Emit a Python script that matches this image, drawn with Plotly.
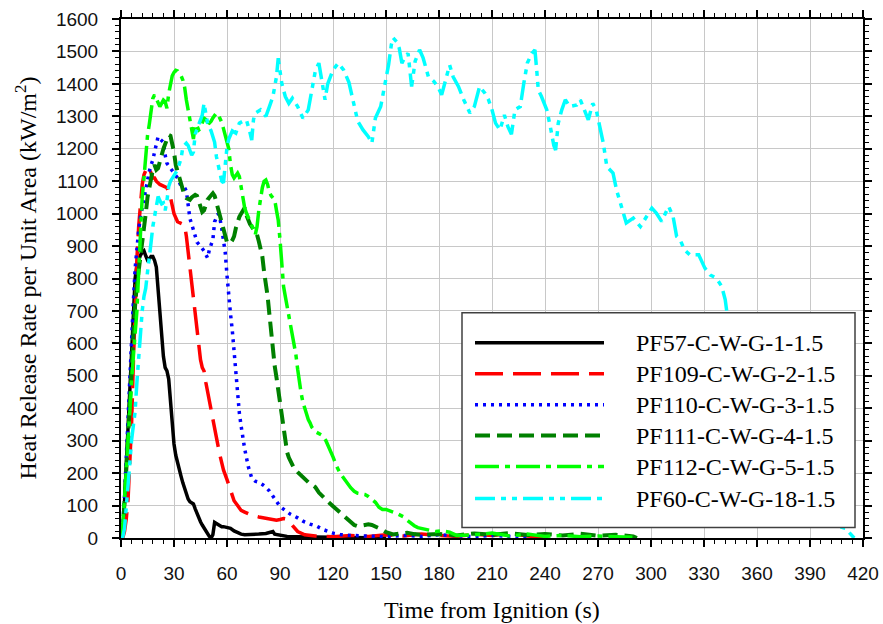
import plotly.graph_objects as go

# ---- data (time s, HRR kW/m2) ----
pf57 = [(0,0),(1,20),(2,110),(3,230),(4,350),(5,470),(6,600),(7,735),(8,800),(9,840),(10,860),(11,872),(12,880),(13,885),(14,870),(15,857),(16,860),(17,868),(18,868),(19,855),(20,835),(21,760),(22,680),(23,611),(24,560),(25,525),(26,515),(27,490),(28,420),(29,360),(30,290),(31,255),(32,230),(33,205),(34,190),(35,170),(36,150),(37,130),(38,120),(39,112),(40,108),(41,105),(42,90),(43,75),(44,60),(45,50),(46,40),(47,30),(48,20),(49,12),(50,5),(51,0),(52,10),(53,48),(54,44),(55,40),(56,37),(57,35),(58,35),(59,34),(60,32),(62,30),(64,22),(66,16),(68,12),(70,10),(74,10),(78,12),(82,14),(84,16),(86,20),(87,12),(90,8),(94,5),(100,4),(110,3),(120,2),(130,2),(140,1),(150,0)]

pf109 = [(0,0),(1,0),(2,20),(3,60),(4,120),(5,230),(6,355),(7,540),(8,735),(9,860),(10,960),(11,1030),(12,1090),(13,1120),(14,1135),(15,1145),(16,1140),(17,1120),(18,1110),(19,1110),(20,1100),(22,1090),(24,1085),(26,1080),(28,1050),(30,1000),(32,975),(34,970),(36,965),(37,930),(38,880),(39,840),(40,790),(41,750),(42,700),(43,630),(44,580),(45,550),(46,525),(47,515),(48,480),(50,420),(52,370),(54,310),(56,255),(58,210),(60,180),(62,150),(64,115),(66,100),(68,85),(70,80),(74,70),(78,65),(82,60),(86,57),(88,55),(90,57),(92,60),(94,58),(96,45),(98,30),(100,20),(104,10),(110,6),(120,4),(130,8),(140,5),(150,10),(160,6),(170,12),(180,8),(190,5),(200,12),(210,8),(220,14),(230,6),(240,3)]

pf110 = [(0,0),(1,30),(2,130),(3,260),(4,380),(5,500),(6,620),(7,730),(8,830),(9,900),(10,950),(11,990),(12,1020),(13,1050),(14,1080),(15,1110),(16,1130),(17,1150),(18,1165),(19,1190),(20,1220),(21,1237),(22,1230),(23,1225),(24,1220),(25,1180),(26,1155),(28,1140),(30,1125),(32,1110),(34,1085),(36,1080),(37,1070),(38,1020),(39,985),(41,950),(43,912),(45,900),(47,885),(49,863),(50,888),(52,920),(53,975),(55,1000),(56,985),(57,955),(58,920),(59,880),(60,810),(61,740),(62,690),(63,640),(64,570),(65,500),(66,440),(67,385),(68,345),(69,305),(70,275),(72,221),(74,185),(76,175),(78,172),(80,165),(82,157),(84,145),(86,130),(88,112),(90,97),(93,85),(96,73),(100,62),(103,52),(107,43),(111,36),(114,27),(117,20),(120,15),(124,11),(130,8),(140,6),(150,4),(160,8),(170,5),(180,10),(190,6),(200,4),(210,8),(220,5),(230,2)]

pf111 = [(0,0),(1,30),(2,110),(3,220),(4,340),(5,450),(6,550),(7,640),(8,720),(9,780),(10,820),(11,860),(12,920),(13,960),(14,1000),(15,1050),(16,1085),(17,1110),(18,1135),(19,1150),(20,1135),(21,1140),(22,1165),(23,1180),(24,1200),(25,1215),(26,1230),(27,1243),(28,1240),(29,1215),(30,1190),(31,1150),(32,1130),(33,1110),(34,1090),(35,1068),(36,1055),(37,1048),(38,1045),(39,1043),(40,1050),(41,1053),(42,1058),(43,1055),(44,1040),(45,1022),(46,1005),(47,1010),(48,1030),(49,1043),(50,1050),(51,1058),(52,1063),(53,1055),(54,1035),(55,1012),(56,990),(57,971),(58,950),(59,925),(60,912),(61,908),(62,910),(63,918),(64,930),(65,955),(66,975),(67,990),(68,1000),(69,1012),(70,1018),(71,995),(72,980),(73,968),(74,960),(75,950),(76,942),(77,935),(78,915),(79,895),(80,868),(81,820),(82,790),(83,745),(84,690),(85,625),(86,575),(87,530),(88,495),(89,455),(90,415),(91,375),(92,325),(93,290),(94,265),(95,248),(96,235),(98,215),(100,203),(102,192),(104,180),(106,172),(108,165),(110,157),(112,140),(114,128),(116,118),(118,108),(120,98),(122,88),(124,77),(126,66),(128,57),(130,48),(132,40),(134,36),(136,38),(138,40),(140,42),(142,40),(144,36),(146,31),(148,25),(150,18),(152,14),(154,11),(158,14),(162,16),(166,12),(170,10),(180,12),(190,8),(200,14),(210,10),(220,15),(230,9),(240,12),(250,8),(260,13),(270,7),(280,10),(290,5),(292,0)]

pf112 = [(0,0),(1,40),(2,120),(3,220),(4,320),(5,400),(6,480),(7,560),(8,630),(9,700),(10,820),(11,960),(12,1050),(13,1110),(14,1180),(15,1240),(16,1275),(17,1310),(18,1355),(19,1366),(20,1355),(21,1340),(22,1330),(23,1340),(24,1350),(25,1345),(26,1325),(27,1370),(28,1400),(29,1425),(30,1435),(31,1442),(32,1440),(33,1432),(34,1425),(35,1412),(36,1390),(37,1350),(38,1320),(39,1295),(40,1268),(41,1230),(42,1275),(43,1270),(44,1258),(45,1262),(46,1280),(47,1294),(48,1290),(49,1282),(50,1279),(51,1285),(52,1295),(53,1302),(54,1310),(55,1305),(56,1295),(57,1282),(58,1262),(59,1240),(60,1222),(61,1200),(62,1150),(63,1120),(64,1110),(65,1120),(66,1125),(67,1114),(68,1080),(69,1045),(70,1018),(71,1002),(72,990),(73,978),(74,968),(75,950),(76,935),(77,960),(78,1010),(79,1050),(80,1080),(81,1100),(82,1104),(83,1090),(84,1066),(85,1055),(86,1048),(87,1043),(88,1010),(89,980),(90,920),(91,847),(92,776),(93,745),(94,715),(95,685),(96,655),(97,625),(98,595),(99,565),(100,520),(101,478),(102,445),(103,418),(104,398),(105,380),(106,365),(107,355),(108,342),(110,328),(112,322),(114,316),(116,300),(118,277),(120,250),(122,222),(124,200),(126,185),(128,168),(130,155),(132,144),(134,138),(136,136),(138,134),(140,128),(142,120),(144,110),(146,95),(148,88),(150,88),(152,85),(154,80),(156,76),(158,70),(160,65),(162,55),(164,46),(166,38),(168,32),(170,30),(174,24),(178,20),(182,22),(186,18),(190,8),(200,10),(210,15),(220,6),(230,12),(240,5),(250,8),(260,4),(270,6),(280,3),(290,2)]

pf60 = [(0,0),(1,3),(2,30),(3,90),(4,150),(5,230),(6,303),(7,350),(8,390),(9,480),(10,560),(11,630),(12,700),(13,745),(14,770),(15,820),(16,860),(17,910),(18,960),(19,990),(20,1012),(21,1053),(22,1040),(23,1030),(24,1033),(25,1010),(26,1040),(27,1084),(28,1100),(30,1118),(32,1135),(34,1170),(35,1205),(37,1217),(38,1210),(40,1180),(41,1190),(42,1245),(44,1275),(46,1304),(47,1340),(48,1300),(49,1279),(51,1255),(53,1220),(54,1176),(56,1125),(57,1100),(58,1095),(59,1150),(60,1205),(61,1230),(63,1255),(65,1248),(67,1279),(69,1285),(71,1289),(73,1250),(74,1227),(75,1290),(76,1310),(79,1320),(82,1300),(84,1330),(86,1361),(88,1422),(89,1479),(90,1440),(91,1402),(93,1361),(95,1340),(97,1356),(100,1330),(103,1294),(106,1320),(108,1380),(110,1440),(112,1464),(114,1400),(115.5,1351),(117,1400),(120,1443),(123,1464),(126,1443),(129,1405),(131.5,1340),(134,1285),(137,1258),(140,1237),(142,1217),(144,1295),(147,1330),(149.5,1402),(151.5,1460),(153,1520),(154,1542),(156,1530),(157.5,1510),(159,1464),(161,1485),(162.5,1494),(164.5,1392),(166.5,1470),(169,1505),(171,1480),(174,1422),(177,1408),(179.5,1390),(181.5,1366),(184,1420),(186,1458),(188,1422),(191,1392),(194,1351),(197.5,1310),(200,1330),(203,1392),(206,1371),(208,1351),(210,1320),(212,1279),(214.5,1258),(217,1304),(219,1268),(221,1245),(223,1320),(226,1330),(228,1402),(230,1464),(232.5,1494),(234.3,1505),(235.3,1443),(236.2,1381),(238,1361),(241,1320),(243,1268),(245,1210),(246,1196),(247.5,1279),(249.5,1320),(251.5,1351),(254,1330),(258,1335),(260,1351),(262.5,1320),(264.5,1289),(267,1340),(269,1320),(271,1268),(273,1217),(275,1145),(278.5,1125),(280.5,1073),(283.5,1022),(286,971),(290,986),(294,960),(297.5,991),(300.5,1017),(303,1002),(306,976),(310,1022),(312.5,991),(314.5,930),(316.5,919),(319,888),(322,873),(327,873),(328.5,857),(330.5,832),(333.5,811),(337,801),(340,776),(342,735),(343,694),(345,640),(350,540),(355,440),(360,350),(365,270),(370,210),(375,160),(380,120),(385,95),(390,75),(395,60),(400,48),(405,38),(410,30),(413,10),(415,0)]

series_names = ["PF57-C-W-G-1-1.5", "PF109-C-W-G-2-1.5", "PF110-C-W-G-3-1.5",
                "PF111-C-W-G-4-1.5", "PF112-C-W-G-5-1.5", "PF60-C-W-G-18-1.5"]
series_data = [pf57, pf109, pf110, pf111, pf112, pf60]
colors = ["#000000", "#ff0000", "#0000ff", "#008000", "#00ff00", "#00ffff"]
dashes = ["solid", "28px,10px", "3px,5px", "15px,7px", "24px,6px,5px,6px", "20px,6px,5px,6px,5px,6px"]
widths = [3.5, 3.5, 3.5, 4, 3.5, 3.5]

x_ticks = list(range(0, 421, 30))
y_ticks = list(range(0, 1601, 100))

W, H = 883, 624
ML, MR, MT, MB = 121, 20, 19, 85.5
PW, PH = W - ML - MR, H - MT - MB

SERIF = "Times New Roman, Liberation Serif, serif"
SANS = "Arial, Liberation Sans, sans-serif"

fig = go.Figure()
for name, d, c, ds, w in zip(series_names, series_data, colors, dashes, widths):
    t = [p[0] for p in d]
    q = [p[1] for p in d]
    fig.add_trace(go.Scatter(x=t, y=q, mode="lines", name=name, showlegend=False,
                             line=dict(color=c, dash=ds, width=w)))

def px_x(px):
    return (px - ML) / PW

def px_y(py):
    return (H - MB - py) / PH

# manual legend
shapes = [dict(type="rect", xref="paper", yref="paper", x0=px_x(462), x1=px_x(855),
               y0=px_y(528), y1=px_y(313), fillcolor="white",
               line=dict(color="#404040", width=1.5), layer="above")]
annotations = []
row_y = [343, 374, 405, 436, 467, 499]
for name, c, ds, w, ry in zip(series_names, colors, dashes, widths, row_y):
    shapes.append(dict(type="line", xref="paper", yref="paper", x0=px_x(475), x1=px_x(604),
                       y0=px_y(ry), y1=px_y(ry), line=dict(color=c, dash=ds, width=w), layer="above"))
    annotations.append(dict(xref="paper", yref="paper", x=px_x(634), y=px_y(ry), text=name,
                            showarrow=False, xanchor="left", yanchor="middle",
                            font=dict(family=SERIF, size=24, color="black")))

annotations.append(dict(xref="paper", yref="paper", x=0.5, y=px_y(611), text="Time from Ignition (s)",
                        showarrow=False, xanchor="center", yanchor="middle",
                        font=dict(family=SERIF, size=24, color="black")))
annotations.append(dict(xref="paper", yref="paper", x=px_x(25), y=0.5,
                        text="Heat Release Rate per Unit Area (kW/m<sup>2</sup>)", textangle=-90,
                        showarrow=False, xanchor="center", yanchor="middle",
                        font=dict(family=SERIF, size=24, color="black")))

tickfont = dict(family=SANS, size=19, color="#111111")
axis_common = dict(showline=True, linecolor="black", linewidth=2, mirror="allticks",
                   ticks="outside", ticklen=7, tickwidth=1.5, tickcolor="black",
                   showgrid=True, gridcolor="#c8c8c8", gridwidth=1, zeroline=False,
                   tickfont=tickfont, ticklabelstandoff=10, automargin=False)

fig.update_layout(
    width=W, height=H,
    margin=dict(l=ML, r=MR, t=MT, b=MB),
    paper_bgcolor="white", plot_bgcolor="white",
    xaxis=dict(range=[0, 420], tickvals=x_ticks, ticktext=[str(v) for v in x_ticks],
               minor=dict(dtick=6, tick0=0, ticks="outside", ticklen=4, tickcolor="black", tickwidth=1, showgrid=False),
               **axis_common),
    yaxis=dict(range=[0, 1600], tickvals=y_ticks, ticktext=[str(v) for v in y_ticks],
               minor=dict(dtick=20, tick0=0, ticks="outside", ticklen=4, tickcolor="black", tickwidth=1, showgrid=False),
               **axis_common),
    shapes=shapes, annotations=annotations,
)

fig.write_html("out.html")
